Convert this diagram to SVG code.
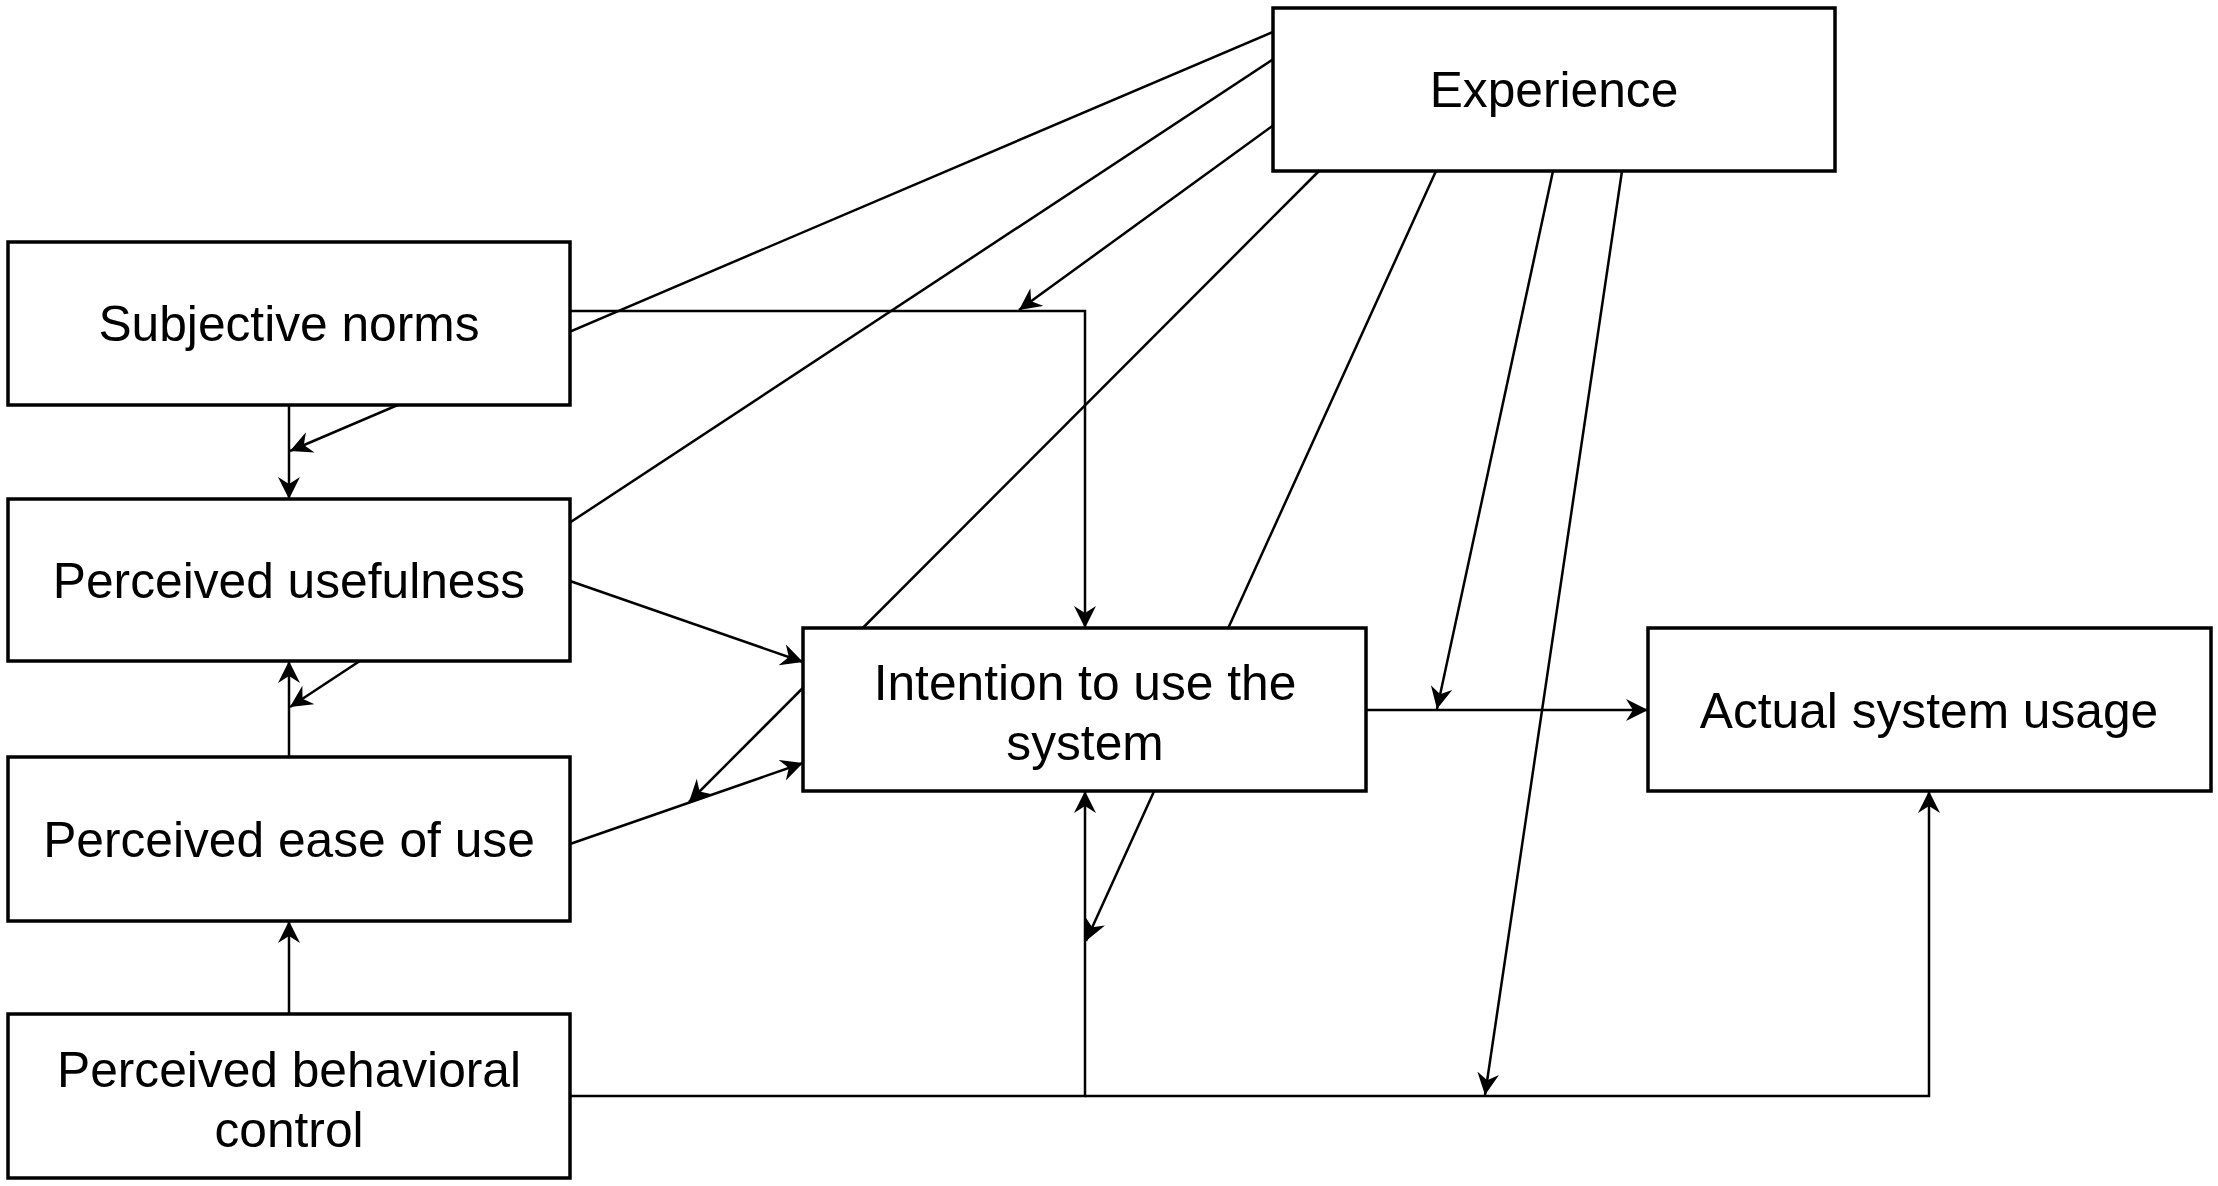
<svg xmlns="http://www.w3.org/2000/svg" width="2218" height="1186" viewBox="0 0 2218 1186">
<style>
  .box { fill: #ffffff; stroke: #000000; stroke-width: 3.5; }
  .lbl { font-family: "Liberation Sans", Arial, Helvetica, sans-serif; font-size: 49.7px; fill: #000000; text-anchor: middle; }
  .conn { fill: none; stroke: #000000; stroke-width: 2.5; }
  .arr { marker-end: url(#arrow); }
</style>
<defs>
  <marker id="arrow" markerUnits="userSpaceOnUse" markerWidth="24" markerHeight="24" viewBox="0 0 24 24" refX="22" refY="11" orient="auto">
    <path d="M0,0 L22,11 L0,22 L7,11 Z" fill="#000000"/>
  </marker>
</defs>
<rect x="0" y="0" width="2218" height="1186" fill="#ffffff"/>

<g id="connectors">
  <line class="conn arr" x1="1275" y1="31" x2="290" y2="451"/>
  <line class="conn arr" x1="1275" y1="58" x2="290" y2="707"/>
  <line class="conn arr" x1="1275" y1="124" x2="1019" y2="310"/>
  <line class="conn arr" x1="1319" y1="171" x2="689" y2="802"/>
  <line class="conn arr" x1="1436" y1="171" x2="1086" y2="941"/>
  <line class="conn arr" x1="1553" y1="171" x2="1437" y2="709"/>
  <line class="conn arr" x1="1622" y1="171" x2="1485" y2="1095"/>
  <polyline class="conn arr" points="570,311 1085,311 1085,628"/>
  <line class="conn arr" x1="289" y1="405" x2="289" y2="499"/>
  <line class="conn arr" x1="570" y1="581" x2="803" y2="662"/>
  <line class="conn arr" x1="289" y1="757" x2="289" y2="661"/>
  <line class="conn arr" x1="570" y1="844" x2="803" y2="763"/>
  <line class="conn arr" x1="289" y1="1014" x2="289" y2="921"/>
  <polyline class="conn arr" points="570,1096 1085,1096 1085,791"/>
  <polyline class="conn arr" points="1085,1096 1929,1096 1929,791"/>
  <line class="conn arr" x1="1366" y1="710" x2="1648" y2="710"/>
</g>

<g id="node-experience">
  <rect class="box" x="1273" y="8" width="562" height="163"/>
  <text class="lbl" x="1554" y="107">Experience</text>
</g>
<g id="node-subjective-norms">
  <rect class="box" x="8" y="242" width="562" height="163"/>
  <text class="lbl" x="289" y="341">Subjective norms</text>
</g>
<g id="node-perceived-usefulness">
  <rect class="box" x="8" y="499" width="562" height="162"/>
  <text class="lbl" x="289" y="598">Perceived usefulness</text>
</g>
<g id="node-perceived-ease-of-use">
  <rect class="box" x="8" y="757" width="562" height="164"/>
  <text class="lbl" x="289" y="857">Perceived ease of use</text>
</g>
<g id="node-perceived-behavioral-control">
  <rect class="box" x="8" y="1014" width="562" height="164"/>
  <text class="lbl" x="289" y="1087">Perceived behavioral</text>
  <text class="lbl" x="289" y="1147">control</text>
</g>
<g id="node-intention">
  <rect class="box" x="803" y="628" width="563" height="163"/>
  <text class="lbl" x="1085" y="700">Intention to use the</text>
  <text class="lbl" x="1085" y="760">system</text>
</g>
<g id="node-actual-usage">
  <rect class="box" x="1648" y="628" width="563" height="163"/>
  <text class="lbl" x="1929" y="728">Actual system usage</text>
</g>
</svg>
